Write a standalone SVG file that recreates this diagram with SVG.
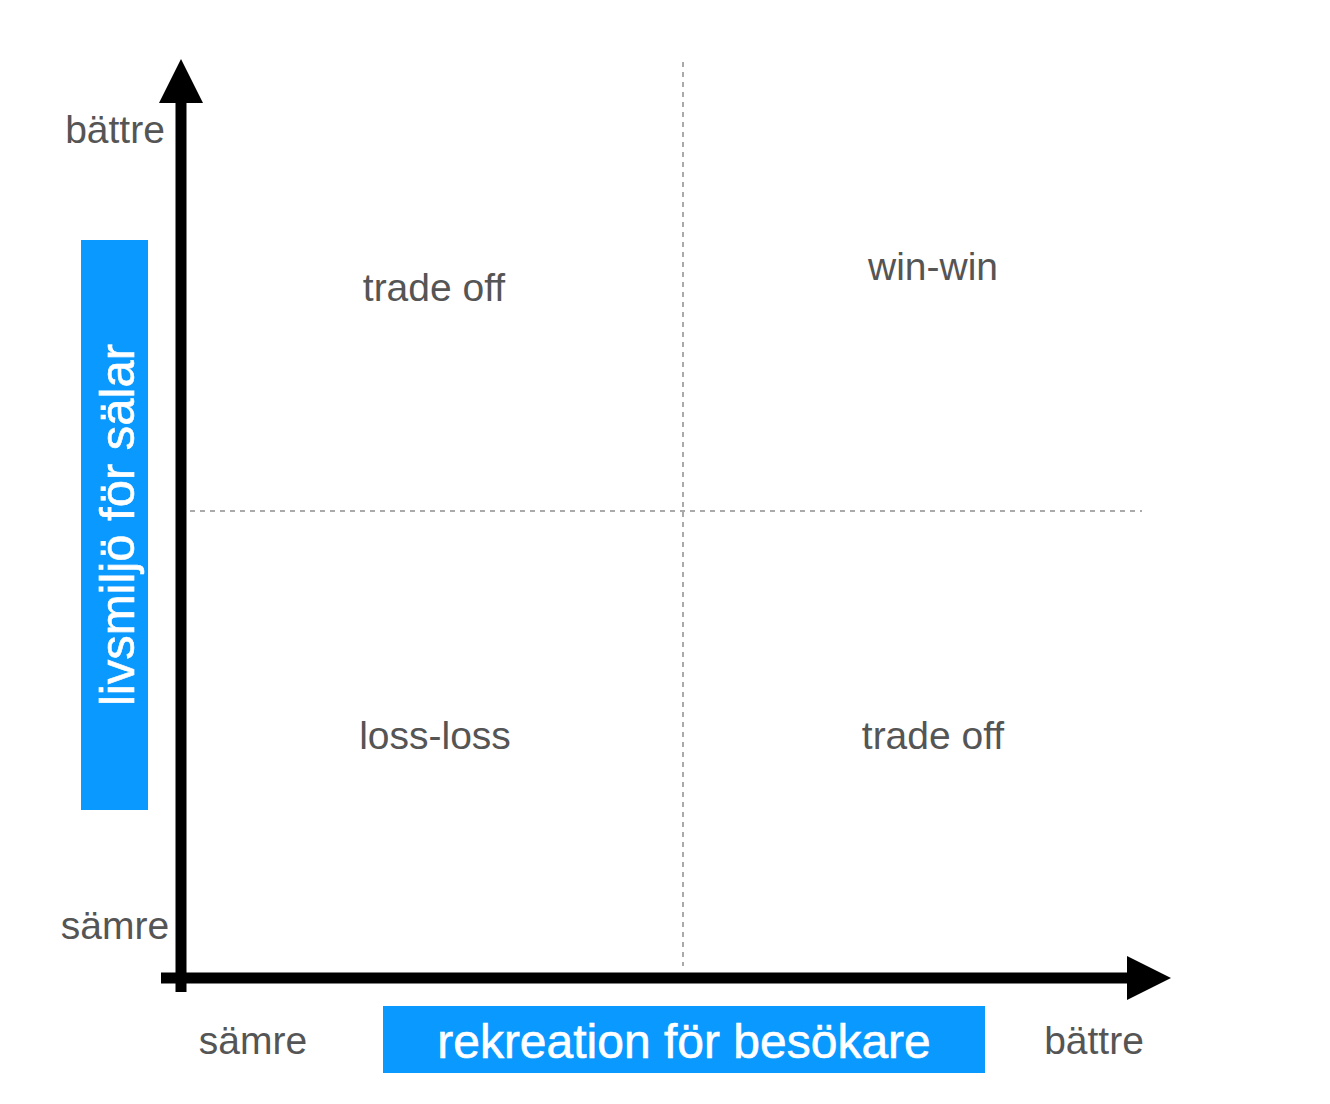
<svg xmlns="http://www.w3.org/2000/svg" width="1330" height="1104" viewBox="0 0 1330 1104">
<style>
.lbl{font-family:"Liberation Sans",Arial,Helvetica,sans-serif;font-size:39px;fill:#555;text-anchor:middle}
.ttl{font-family:"Liberation Sans",Arial,Helvetica,sans-serif;font-size:48px;fill:#fff;stroke:#fff;stroke-width:0.6;text-anchor:middle}
.vt{font-size:49px}
.dash{stroke:#aaa;stroke-width:2;stroke-dasharray:5 5;fill:none}
.axis{stroke:#000;stroke-width:11;fill:none}
.box{fill:#0A99FF}
</style>
<rect width="1330" height="1104" fill="#fff"/>
<g id="grid">
<line class="dash" x1="683" y1="62" x2="683" y2="966"/>
<line class="dash" x1="190" y1="511" x2="1142" y2="511"/>
</g>
<g id="connectors">
<line class="axis" x1="181" y1="100" x2="181" y2="992"/>
<polygon points="181,59 159,103 203,103" fill="#000"/>
<line class="axis" x1="161" y1="978" x2="1130" y2="978"/>
<polygon points="1171,978 1127,956 1127,1000" fill="#000"/>
</g>
<g id="y-axis-label">
<rect class="box" x="81" y="240" width="67" height="570"/>
<text class="ttl vt" transform="translate(134,525) rotate(-90)">livsmiljö för sälar</text>
</g>
<g id="x-axis-label">
<rect class="box" x="383" y="1006" width="602" height="67"/>
<text class="ttl" x="684" y="1058">rekreation för besökare</text>
</g>
<g id="y-ticks">
<text class="lbl" x="115" y="143">bättre</text>
<text class="lbl" x="115" y="939">sämre</text>
</g>
<g id="x-ticks">
<text class="lbl" x="253" y="1054">sämre</text>
<text class="lbl" x="1094" y="1054">bättre</text>
</g>
<g id="q-tl"><text class="lbl" x="434" y="301">trade off</text></g>
<g id="q-tr"><text class="lbl" x="933" y="280">win-win</text></g>
<g id="q-bl"><text class="lbl" x="435" y="749">loss-loss</text></g>
<g id="q-br"><text class="lbl" x="933" y="749">trade off</text></g>
</svg>
